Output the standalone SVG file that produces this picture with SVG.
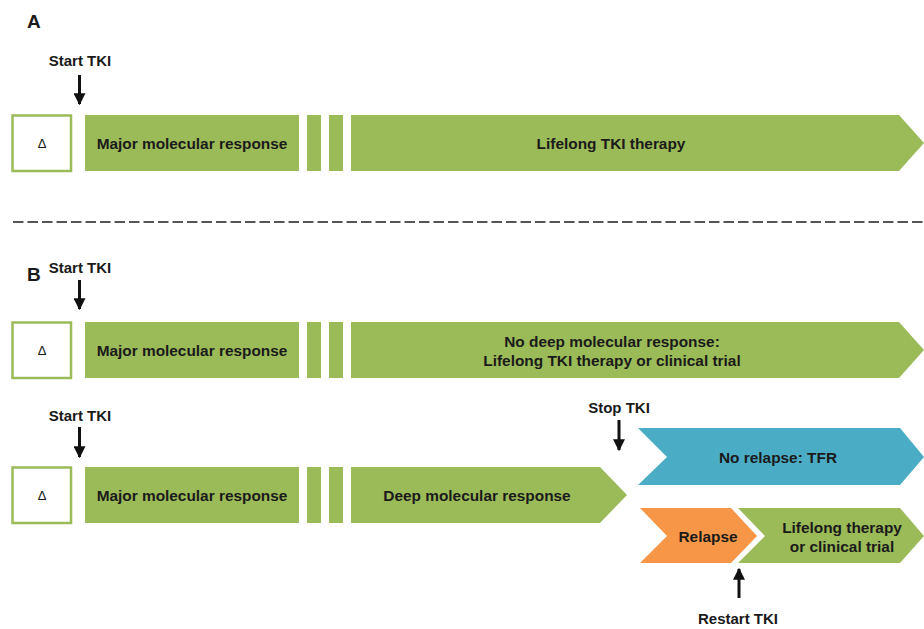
<svg xmlns="http://www.w3.org/2000/svg" width="924" height="629" viewBox="0 0 924 629">
<defs>
<style>
.g{fill:#9bbb59}
.b{fill:#4bacc6}
.o{fill:#f79646}
.box{fill:#fff;stroke:#9bbb59;stroke-width:2.5}
.stripe{fill:#fff}
.t{font-family:"Liberation Sans",Arial,sans-serif;font-weight:bold;font-size:15.4px;fill:#1a1a1a;text-anchor:middle;dominant-baseline:central}
.lbl{font-family:"Liberation Sans",Arial,sans-serif;font-weight:bold;font-size:15px;fill:#1a1a1a;text-anchor:middle}
.big{font-family:"Liberation Sans",Arial,sans-serif;font-weight:bold;font-size:19px;fill:#1a1a1a}
.d{font-family:"Liberation Sans",Arial,sans-serif;font-size:13px;fill:#1a1a1a;text-anchor:middle;dominant-baseline:central}
.arr{stroke:#111;stroke-width:3;fill:none}
</style>
<marker id="ah" viewBox="0 0 10 10" refX="9" refY="5" markerWidth="4" markerHeight="4" orient="auto" markerUnits="strokeWidth">
<path d="M0,0 L10,5 L0,10 Z" fill="#111"/>
</marker>
</defs>

<text class="big" x="27" y="28">A</text>
<text class="big" x="27" y="281">B</text>

<line x1="13" y1="222" x2="924" y2="222" stroke="#555" stroke-width="2" stroke-dasharray="10.5,4"/>

<g id="rowA">
<g id="a-box"><rect class="box" x="12.5" y="115.5" width="58.5" height="55.5"/><text class="d" x="42" y="143">Δ</text></g>
<g id="a-bar"><path class="g" d="M85,115 H899 L924,143 L899,171 H85 Z"/>
<rect class="stripe" x="299" y="115" width="8" height="56"/>
<rect class="stripe" x="321" y="115" width="8" height="56"/>
<rect class="stripe" x="343" y="115" width="8" height="56"/>
<text class="t" x="192" y="143">Major molecular response</text>
<text class="t" x="611" y="143">Lifelong TKI therapy</text></g>
</g>

<g id="rowB1">
<g id="b1-box"><rect class="box" x="12.5" y="322.5" width="58.5" height="55.5"/><text class="d" x="42" y="350">Δ</text></g>
<g id="b1-bar"><path class="g" d="M85,322 H899 L924,350 L899,378 H85 Z"/>
<rect class="stripe" x="299" y="322" width="8" height="56"/>
<rect class="stripe" x="321" y="322" width="8" height="56"/>
<rect class="stripe" x="343" y="322" width="8" height="56"/>
<text class="t" x="192" y="350">Major molecular response</text>
<text class="t" x="612" y="341">No deep molecular response:</text>
<text class="t" x="612" y="360">Lifelong TKI therapy or clinical trial</text></g>
</g>

<g id="rowB2">
<g id="b2-box"><rect class="box" x="12.5" y="467.5" width="58.5" height="55.5"/><text class="d" x="42" y="495">Δ</text></g>
<g id="b2-bar"><path class="g" d="M85,467 H600 L627,495 L600,523 H85 Z"/>
<rect class="stripe" x="299" y="467" width="8" height="56"/>
<rect class="stripe" x="321" y="467" width="8" height="56"/>
<rect class="stripe" x="343" y="467" width="8" height="56"/>
<text class="t" x="192" y="495">Major molecular response</text>
<text class="t" x="477" y="495">Deep molecular response</text></g>
<g id="tfr"><path class="b" d="M638,428 H900 L924,457 L900,485 H638 L667,457 Z"/>
<text class="t" x="778" y="457">No relapse: TFR</text></g>
<g id="relapse"><path class="o" d="M640,508 H731 L757,536 L731,563 H640 L667,536 Z"/>
<text class="t" x="708" y="536">Relapse</text></g>
<g id="lifelong"><path class="g" d="M738,508 H900 L924,536 L900,563 H738 L765,536 Z"/>
<text class="t" x="842" y="527">Lifelong therapy</text>
<text class="t" x="842" y="546">or clinical trial</text></g>
</g>

<g id="labels">
<text class="lbl" x="80" y="66">Start TKI</text>
<text class="lbl" x="80" y="273">Start TKI</text>
<text class="lbl" x="80" y="421">Start TKI</text>
<text class="lbl" x="619" y="413">Stop TKI</text>
<text class="lbl" x="738" y="624">Restart TKI</text>
</g>

<g id="connectors">
<line class="arr" x1="79.5" y1="75" x2="79.5" y2="104" marker-end="url(#ah)"/>
<line class="arr" x1="79.5" y1="280" x2="79.5" y2="309" marker-end="url(#ah)"/>
<line class="arr" x1="79.5" y1="427" x2="79.5" y2="457" marker-end="url(#ah)"/>
<line class="arr" x1="619" y1="420" x2="619" y2="450" marker-end="url(#ah)"/>
<line class="arr" x1="739" y1="598" x2="739" y2="569" marker-end="url(#ah)"/>
</g>
</svg>
